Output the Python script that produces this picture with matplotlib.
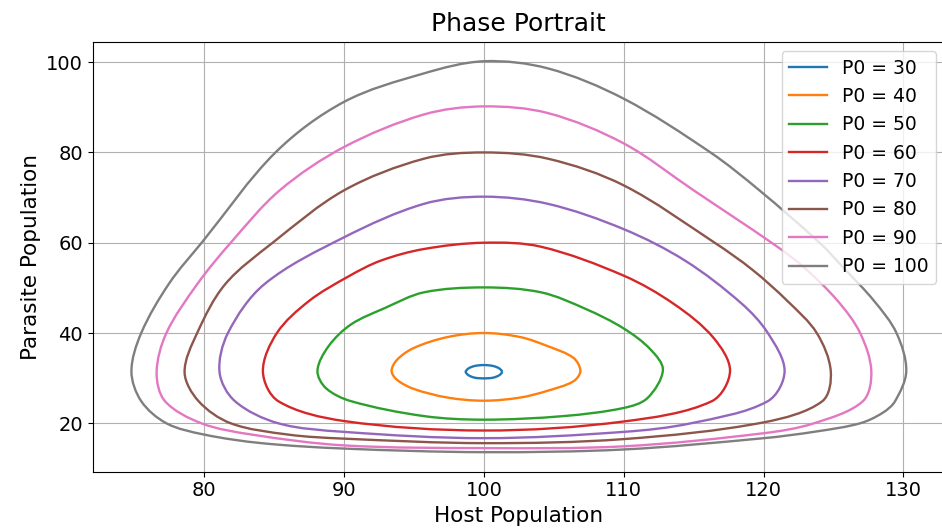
import numpy as np
import matplotlib
matplotlib.use('Agg')
import matplotlib.pyplot as plt
from matplotlib.path import Path
from matplotlib.patches import PathPatch
from matplotlib.lines import Line2D

# initial parasite populations (legend)
p0_values = [30, 40, 50, 60, 70, 80, 90, 100]
colors = ['C0', 'C1', 'C2', 'C3', 'C4', 'C5', 'C6', 'C7']

# orbits, counter-clockwise from the top
host_30 = [101.3, 101.1, 100.65, 100, 99.35, 98.9, 98.7, 98.9, 99.35, 100, 100.65, 101.1]
para_30 = [31.4, 32.15, 32.7, 32.9, 32.7, 32.15, 31.4, 30.65, 30.1, 29.95, 30.1, 30.65]

host_40 = [100, 97.4, 95.0, 93.8, 93.4, 93.8, 95.0, 97.4, 100, 102.6, 104.55, 106.4,
           106.9, 106.4, 104.55, 102.6]
para_40 = [40, 39.1, 36.7, 34.1, 31.6, 29.6, 27.6, 25.7, 25.0, 25.7, 27.2, 29.3,
           31.6, 34.5, 37.1, 39.1]

host_50 = [100, 95.7, 92.9, 90.5, 88.9, 88.1, 88.7, 90.5, 95.7, 100, 105.7, 110,
           111.7, 112.8, 111.9, 110, 107.3, 104.1]
para_50 = [50.1, 49.0, 45.5, 41.9, 37.1, 31.7, 27.8, 24.9, 21.6, 20.8, 21.6, 23.4,
           25.6, 31.8, 36.4, 41.0, 45.3, 49.0]

host_60 = [100, 95.7, 92.6, 90.3, 87.5, 85.2, 84.2, 85.3, 90, 100, 110, 116.3,
           117.6, 116.4, 113.6, 110, 104.1]
para_60 = [60, 58.6, 56, 52.5, 47.1, 40, 31.5, 24.9, 20.5, 18.4, 20.4, 24.9,
           31.6, 39, 46.4, 52.7, 59.1]

host_70 = [100, 95.7, 90, 84.3, 81.7, 81.1, 82.2, 85.3, 90, 100, 110, 114.8,
           120.3, 121.5, 120.3, 118.4, 114.4, 110, 104.6]
para_70 = [70.2, 68.6, 61.2, 50.8, 40, 31.3, 24.9, 20, 18.1, 16.7, 18.1, 20,
           24.9, 31.6, 40, 46.6, 56, 63.0, 68.6]

host_80 = [100, 95.7, 90, 84.9, 81.5, 79.5, 78.6, 79.6, 81.9, 86.0, 90, 100, 110,
           120, 124.2, 124.8, 123.8, 121.7, 119.2, 116.5, 110, 104.6]
para_80 = [80.0, 78.6, 71.6, 60, 50.8, 40, 31.3, 24.9, 20, 17.5, 16.6, 15.6, 16.5,
           20.2, 24.9, 31.6, 40, 47.1, 54.0, 60, 72.7, 78.6]

host_90 = [100, 95.7, 90, 85.4, 81.9, 79.5, 77.3, 76.6, 77.2, 79.8, 83.4, 90, 100,
           110, 120, 123.6, 127.1, 127.7, 126.9, 125.3, 122.9, 120.8, 115.0, 110, 104.6]
para_90 = [90.2, 88.4, 81.2, 71.6, 60, 50.8, 40, 31.3, 24.9, 20, 17.5, 15.1, 14.5,
           14.9, 17.8, 20, 24.9, 31.6, 40, 47.1, 54.5, 59.5, 71.6, 82.0, 88.7]

host_100 = [100, 95.7, 90, 85.1, 79.9, 77.5, 75.5, 74.8, 75.5, 77.3, 80.0,
            84.1, 90, 100, 110, 120, 123.8, 126.9, 128.5, 129.4, 130.2, 129.5, 127.9,
            125.7, 124.0, 119.7, 116.2, 110, 104.6]
para_100 = [100.2, 97.5, 91.2, 80, 60.3, 51.0, 40, 31.5, 24.9, 20, 17.5,
             15.6, 14.4, 13.6, 14.2, 16.7, 18.2, 20, 22.3, 24.9, 31.6, 40, 47.1,
             54.5, 60, 71.6, 80, 91.9, 98.6]

hosts = [host_30, host_40, host_50, host_60, host_70, host_80, host_90, host_100]
paras = [para_30, para_40, para_50, para_60, para_70, para_80, para_90, para_100]


def closed_curve(xs, ys):
    """Smooth closed bezier path through the read points"""
    pts = np.column_stack([xs, ys]).astype(float)
    n = len(pts)
    scale = np.array([14.0, 4.5])  # rough px per unit, for chord lengths
    prev = np.roll(pts, 1, axis=0)
    nxt = np.roll(pts, -1, axis=0)
    d = np.linalg.norm((nxt - pts) * scale, axis=1)
    dprev = np.roll(d, 1)
    tang = (nxt - prev) / (d + dprev)[:, None]
    verts = [pts[0]]
    codes = [Path.MOVETO]
    for i in range(n):
        j = (i + 1) % n
        verts += [pts[i] + tang[i] * d[i] / 3, pts[j] - tang[j] * d[i] / 3, pts[j]]
        codes += [Path.CURVE4] * 3
    return Path(verts, codes)


fig = plt.figure(figsize=(9.42, 5.32), dpi=100)
ax = fig.add_axes([0.0984, 0.1133, 0.9048, 0.8083])

handles = []
for p0, h, p, c in zip(p0_values, hosts, paras, colors):
    ax.add_patch(PathPatch(closed_curve(h, p), fill=False, edgecolor=c, lw=1.7))
    handles.append(Line2D([], [], color=c, lw=1.7, label='P0 = ' + str(p0)))

ax.set_xlim(72.03, 132.97)
ax.set_ylim(9.27, 104.53)
ax.set_xticks([80, 90, 100, 110, 120, 130])
ax.set_yticks([20, 40, 60, 80, 100])
ax.grid(True)
ax.set_axisbelow(True)
ax.tick_params(labelsize=14)
ax.set_xlabel('Host Population', fontsize=15.5)
ax.set_ylabel('Parasite Population', fontsize=15.5)
ax.set_title('Phase Portrait', fontsize=18, pad=8)
ax.legend(handles=handles, loc='upper right', fontsize=13.5)

plt.savefig('out.png', dpi=100)
